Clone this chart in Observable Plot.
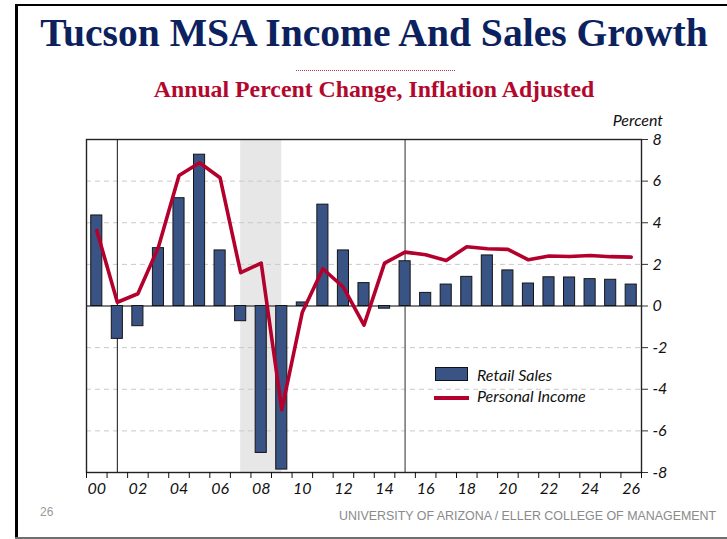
<!DOCTYPE html>
<html>
<head>
<meta charset="utf-8">
<script src="https://cdn.jsdelivr.net/npm/d3@7"></script>
<script src="https://cdn.jsdelivr.net/npm/@observablehq/plot@0.6"></script>
<style>
  html, body { margin: 0; padding: 0; background: #fff; }
  #page { position: relative; width: 727px; height: 539px; overflow: hidden; background: #fff; }
  .abs { position: absolute; white-space: nowrap; }
  #borderL { left: 15px; top: 4px; width: 3px; height: 535px; background: #000; }
  #borderT { left: 15px; top: 4px; width: 712px; height: 2px; background: #000; }
  #borderB { left: 15px; top: 537px; width: 712px; height: 2px; background: #6f6f6f; }
  #title { left: 21px; width: 706px; top: 14.2px; text-align: center; font: bold 39.6px/39.6px "Liberation Serif", "Times New Roman", serif; color: #0c225f; }
  #dots { left: 296px; top: 70px; width: 159px; height: 0; border-top: 1px dotted #c23a52; }
  #sub { left: 21px; width: 706px; top: 77.6px; text-align: center; font: bold 23.8px/23.8px "Liberation Serif", "Times New Roman", serif; color: #b3082d; }
  #pct { left: 0; width: 663px; top: 112px; text-align: right; font: italic 16px/16px Lato, "Open Sans", sans-serif; color: #111; }
  #chart { left: 0; top: 120px; width: 727px; height: 380px; }
  #legRect { left: 435px; top: 367px; width: 31px; height: 12px; background: #3a5385; border: 1px solid #111; }
  #legLine { left: 434px; top: 395.5px; width: 35px; height: 4px; background: #b3002d; }
  .legTxt { font: italic 16px/16px Lato, "Open Sans", sans-serif; color: #111; }
  #pg { left: 40px; top: 506px; font: 12px/12px "Liberation Sans", Arial, sans-serif; color: #9a9a9a; }
  #foot { left: 339px; top: 509px; font: 13px/13px "Liberation Sans", Arial, sans-serif; color: #8a8a8a; transform: scaleX(0.955); transform-origin: 0 0; }
</style>
</head>
<body>
<div id="page">
  <div class="abs" id="borderL"></div>
  <div class="abs" id="borderT"></div>
  <div class="abs" id="borderB"></div>
  <div class="abs" id="title">Tucson MSA Income And Sales Growth</div>
  <div class="abs" id="dots"></div>
  <div class="abs" id="sub">Annual Percent Change, Inflation Adjusted</div>
  <div class="abs" id="pct">Percent</div>
  <div class="abs" id="chart"></div>
  <div class="abs" id="legRect"></div>
  <div class="abs legTxt" style="left:477px;top:367px;">Retail Sales</div>
  <div class="abs" id="legLine"></div>
  <div class="abs legTxt" style="left:477px;top:388px;">Personal Income</div>
  <div class="abs" id="pg">26</div>
  <div class="abs" id="foot">UNIVERSITY OF ARIZONA / ELLER COLLEGE OF MANAGEMENT</div>
</div>
<script>
// ---- data ----
const years = [2000, 2001, 2002, 2003, 2004, 2005, 2006, 2007, 2008, 2009, 2010, 2011, 2012, 2013,
               2014, 2015, 2016, 2017, 2018, 2019, 2020, 2021, 2022, 2023, 2024, 2025, 2026];
const retailSales = [4.35, -1.58, -0.97, 2.78, 5.18, 7.27, 2.67, -0.73, -7.06, -7.86, 0.17, 4.87, 2.67, 1.10,
                     -0.13, 2.15, 0.63, 1.03, 1.40, 2.43, 1.71, 1.08, 1.38, 1.37, 1.29, 1.26, 1.03];
const personalIncome = [3.63, 0.18, 0.59, 2.83, 6.27, 6.88, 6.16, 1.60, 2.06, -4.99, -0.30, 1.79, 0.90, -0.92,
                        2.06, 2.59, 2.46, 2.19, 2.85, 2.75, 2.72, 2.22, 2.40, 2.38, 2.43, 2.37, 2.35];
const xLabelYears = [2000, 2002, 2004, 2006, 2008, 2010, 2012, 2014, 2016, 2018, 2020, 2022, 2024, 2026];
const xTickLabels = ["00", "02", "04", "06", "08", "10", "12", "14", "16", "18", "20", "22", "24", "26"];
const yTicks = [-8, -6, -4, -2, 0, 2, 4, 6, 8];
const yTickLabels = ["-8", "-6", "-4", "-2", "0", "2", "4", "6", "8"];
const gridValues = [-6, -4, -2, 2, 4, 6];
const recession = [{start: 2007, end: 2009}];
const markerBlack = [2001];
const markerGray = [2015];

// ---- build ----
const rows = years.map((year, i) => ({year, retail: retailSales[i], income: personalIncome[i]}));
const halfBar = 0.27; // bar half-width, in years
const boundaries = years.map(y => y - 0.5).concat([years[years.length - 1] + 0.5]);
const xLabelMap = new Map(xLabelYears.map((y, i) => [y, xTickLabels[i]]));
const yLabelMap = new Map(yTicks.map((v, i) => [v, yTickLabels[i]]));

const chart = Plot.plot({
  width: 727,
  height: 380,
  marginTop: 19,
  marginBottom: 28,
  marginLeft: 86,
  marginRight: 86,
  style: {fontFamily: "Lato, 'Open Sans', sans-serif", background: "transparent", overflow: "visible"},
  x: {domain: [years[0] - 0.5, years[years.length - 1] + 0.5], axis: null},
  y: {domain: [-8, 8], axis: null},
  marks: [
    Plot.rect(recession, {x1: "start", x2: "end", fill: "#e7e7e7"}),
    Plot.gridY(gridValues, {stroke: "#c9c9c9", strokeOpacity: 1, strokeWidth: 1, strokeDasharray: "5,4"}),
    Plot.ruleX(markerBlack, {stroke: "#111", strokeWidth: 1}),
    Plot.ruleX(markerGray, {stroke: "#7a7a7a", strokeWidth: 1.6}),
    Plot.ruleY([0], {stroke: "#555", strokeWidth: 1.5}),
    Plot.rectY(rows, {x1: d => d.year - halfBar, x2: d => d.year + halfBar, y: "retail", fill: "#3a5385", stroke: "#151515", strokeWidth: 1}),
    Plot.line(rows, {x: "year", y: "income", stroke: "#b3002d", strokeWidth: 3.6}),
    Plot.frame({stroke: "#222", strokeWidth: 1.4}),
    Plot.axisX(boundaries, {anchor: "bottom", tickSize: 6, tickFormat: () => "", stroke: "#111"}),
    Plot.axisX(xLabelYears, {anchor: "bottom", tickSize: 0, tickPadding: 10, tickFormat: d => xLabelMap.get(d),
      fontSize: 16, fontStyle: "italic", fill: "#111"}),
    Plot.axisY(yTicks, {anchor: "right", tickSize: 6, tickPadding: 5, tickFormat: d => yLabelMap.get(d),
      fontSize: 16, fontStyle: "italic", fill: "#111", stroke: "#333"})
  ]
});
document.getElementById("chart").appendChild(chart);
</script>
</body>
</html>
